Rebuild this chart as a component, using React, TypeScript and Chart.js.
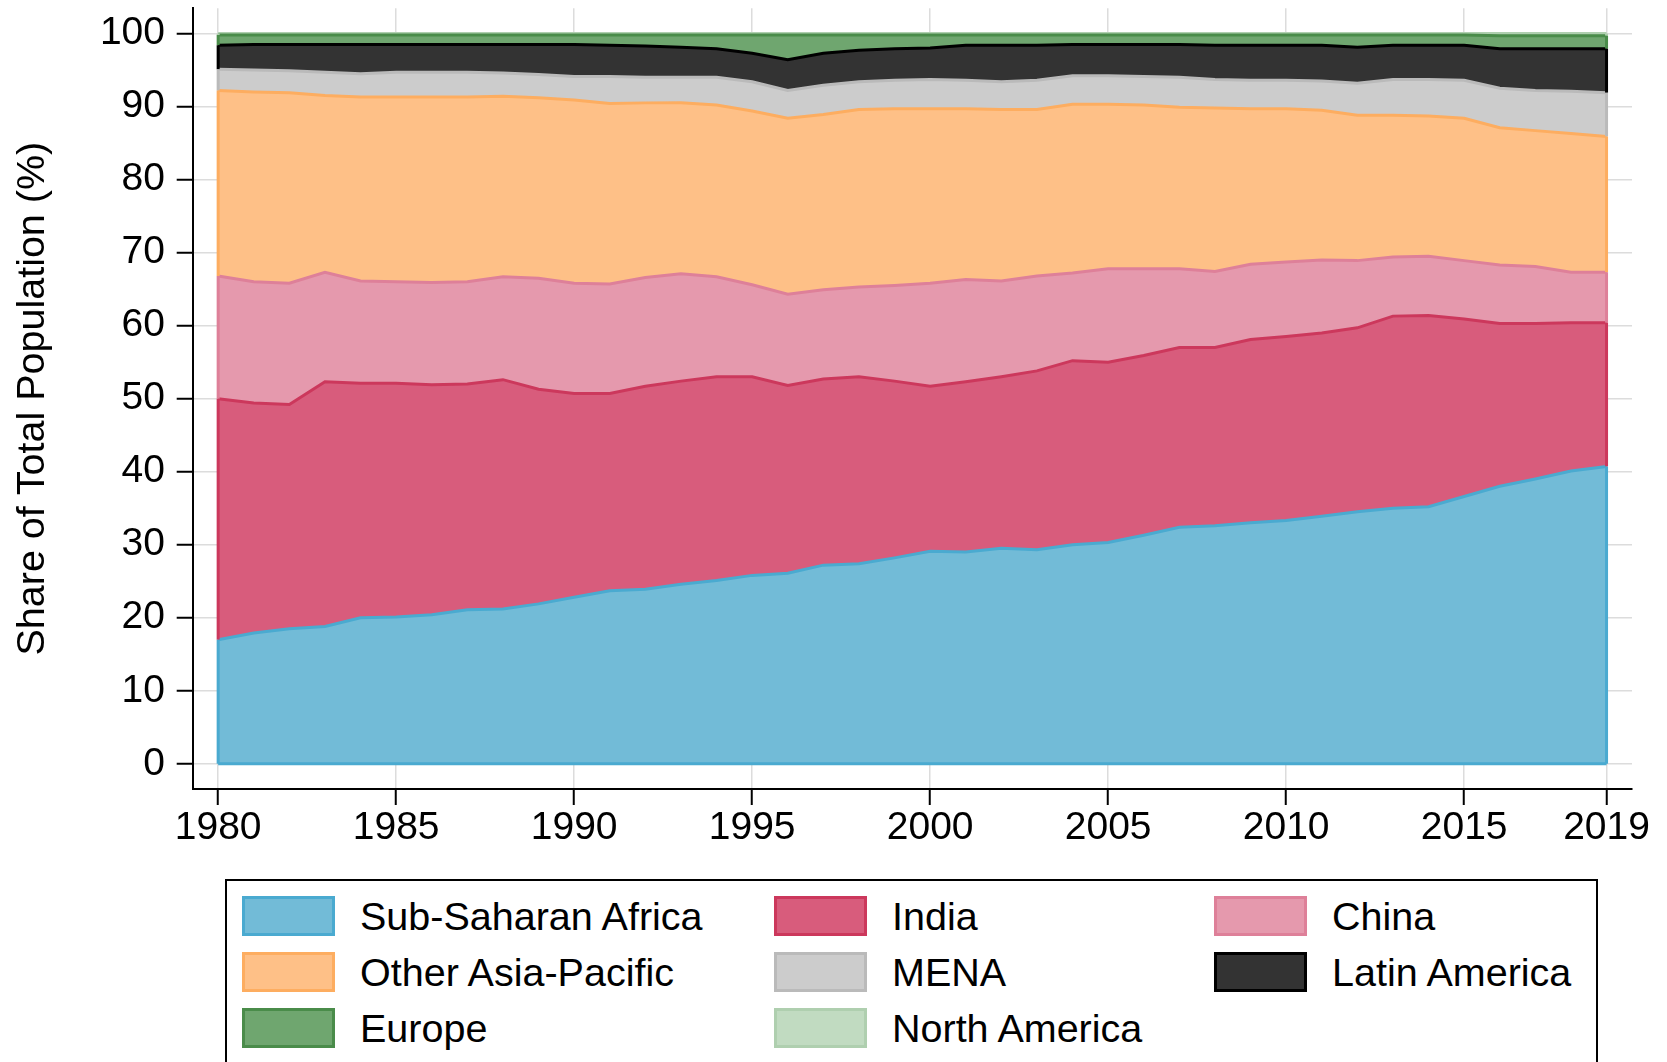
import React, { useEffect, useRef } from "react";
import { Chart, registerables } from "chart.js";

Chart.register(...registerables);

const years = [
  1980, 1981, 1982, 1983, 1984, 1985, 1986, 1987, 1988, 1989,
  1990, 1991, 1992, 1993, 1994, 1995, 1996, 1997, 1998, 1999,
  2000, 2001, 2002, 2003, 2004, 2005, 2006, 2007, 2008, 2009,
  2010, 2011, 2012, 2013, 2014, 2015, 2016, 2017, 2018, 2019,
];

const subSaharanAfrica = [
  17.0, 17.9, 18.5, 18.8, 20.0, 20.1, 20.4, 21.1, 21.2, 21.9,
  22.8, 23.7, 23.9, 24.6, 25.1, 25.8, 26.1, 27.2, 27.4, 28.2,
  29.1, 29.0, 29.5, 29.3, 30.0, 30.3, 31.3, 32.4, 32.6, 33.0,
  33.3, 33.9, 34.5, 35.0, 35.2, 36.6, 38.0, 39.0, 40.1, 40.7,
];
const india = [
  33.0, 31.5, 30.7, 33.5, 32.1, 32.0, 31.5, 30.9, 31.4, 29.4,
  27.9, 27.0, 27.8, 27.8, 27.9, 27.2, 25.7, 25.5, 25.6, 24.2,
  22.6, 23.3, 23.5, 24.5, 25.2, 24.7, 24.6, 24.6, 24.4, 25.1,
  25.2, 25.1, 25.2, 26.3, 26.2, 24.3, 22.3, 21.3, 20.3, 19.7,
];
const china = [
  16.8, 16.6, 16.6, 15.0, 14.0, 13.9, 14.0, 14.0, 14.1, 15.2,
  15.1, 15.0, 14.9, 14.7, 13.7, 12.6, 12.5, 12.2, 12.3, 13.1,
  14.1, 14.0, 13.1, 13.0, 12.0, 12.8, 11.9, 10.8, 10.4, 10.3,
  10.2, 10.0, 9.2, 8.1, 8.1, 8.0, 8.0, 7.8, 6.9, 6.9,
];
const otherAsiaPacific = [
  25.4, 26.0, 26.1, 24.2, 25.2, 25.3, 25.4, 25.3, 24.7, 24.7,
  25.1, 24.7, 23.9, 23.4, 23.5, 23.8, 24.1, 24.0, 24.3, 24.2,
  23.9, 23.4, 23.5, 22.8, 23.1, 22.5, 22.4, 22.1, 22.4, 21.3,
  21.0, 20.5, 19.9, 19.4, 19.2, 19.5, 18.8, 18.6, 19.0, 18.6,
];
const mena = [
  2.9, 3.0, 3.0, 3.2, 3.2, 3.4, 3.4, 3.4, 3.2, 3.2,
  3.2, 3.7, 3.5, 3.5, 3.8, 4.0, 3.8, 4.0, 3.8, 3.9,
  4.0, 3.9, 3.8, 4.0, 3.9, 3.9, 3.9, 4.1, 3.9, 3.9,
  3.9, 4.0, 4.4, 4.9, 5.0, 5.2, 5.4, 5.5, 5.8, 6.0,
];
const latinAmerica = [
  3.3, 3.5, 3.6, 3.8, 4.0, 3.8, 3.8, 3.8, 3.9, 4.1,
  4.4, 4.3, 4.3, 4.1, 3.9, 3.9, 4.2, 4.4, 4.3, 4.3,
  4.3, 4.8, 5.0, 4.8, 4.3, 4.3, 4.4, 4.5, 4.7, 4.8,
  4.8, 4.9, 4.9, 4.7, 4.7, 4.8, 5.4, 5.7, 5.8, 6.0,
];
const europe = [
  1.4, 1.3, 1.3, 1.3, 1.3, 1.3, 1.3, 1.3, 1.3, 1.3,
  1.3, 1.4, 1.5, 1.7, 1.9, 2.5, 3.4, 2.5, 2.1, 1.9,
  1.8, 1.4, 1.4, 1.4, 1.3, 1.3, 1.3, 1.3, 1.4, 1.4,
  1.4, 1.4, 1.7, 1.4, 1.4, 1.4, 1.8, 1.8, 1.8, 1.8,
];
const northAmerica = [
  0.2, 0.2, 0.2, 0.2, 0.2, 0.2, 0.2, 0.2, 0.2, 0.2,
  0.2, 0.2, 0.2, 0.2, 0.2, 0.2, 0.2, 0.2, 0.2, 0.2,
  0.2, 0.2, 0.2, 0.2, 0.2, 0.2, 0.2, 0.2, 0.2, 0.2,
  0.2, 0.2, 0.2, 0.2, 0.2, 0.2, 0.3, 0.3, 0.3, 0.3,
];

const xTicks = [1980, 1985, 1990, 1995, 2000, 2005, 2010, 2015, 2019];
const yTicks = [0, 10, 20, 30, 40, 50, 60, 70, 80, 90, 100];
const yTitle = "Share of Total Population (%)";

const series = [
  { label: "Sub-Saharan Africa", values: subSaharanAfrica, fill: "#72bbd7", line: "#4aaad0" },
  { label: "India", values: india, fill: "#d85c7c", line: "#cc385c" },
  { label: "China", values: china, fill: "#e599ad", line: "#de8099" },
  { label: "Other Asia-Pacific", values: otherAsiaPacific, fill: "#fec087", line: "#fdad60" },
  { label: "MENA", values: mena, fill: "#cccccc", line: "#bababa" },
  { label: "Latin America", values: latinAmerica, fill: "#333333", line: "#000000" },
  { label: "Europe", values: europe, fill: "#6fa66f", line: "#4a8c4a" },
  { label: "North America", values: northAmerica, fill: "#c1dbc1", line: "#afcfaf" },
];

// legend order (row-major, 3 columns)
const legendOrder = [
  "Sub-Saharan Africa", "India", "China",
  "Other Asia-Pacific", "MENA", "Latin America",
  "Europe", "North America",
];

const FONT = "'Liberation Sans', Arial, Helvetica, sans-serif";

const edgePlugin = {
  id: "areaEdges",
  afterDatasetsDraw(chart: any) {
    const ctx = chart.ctx;
    const yScale = chart.scales.y;
    const area = chart.chartArea;
    ctx.save();
    ctx.beginPath();
    ctx.rect(area.left, area.top, area.right - area.left, area.bottom - area.top);
    ctx.clip();
    const n = chart.data.datasets.length;
    const zero = yScale.getPixelForValue(0);
    for (let i = n - 1; i >= 0; i--) {
      const meta = chart.getDatasetMeta(i);
      const prev = i > 0 ? chart.getDatasetMeta(i - 1) : null;
      const ds = chart.data.datasets[i];
      ctx.strokeStyle = ds.borderColor;
      ctx.lineWidth = 3;
      const last = meta.data.length - 1;
      [0, last].forEach((j) => {
        const pt = meta.data[j];
        const base = prev ? prev.data[j].y : zero;
        ctx.beginPath();
        ctx.moveTo(pt.x, pt.y);
        ctx.lineTo(pt.x, base);
        ctx.stroke();
      });
      if (i === 0) {
        ctx.beginPath();
        ctx.moveTo(meta.data[0].x, zero);
        ctx.lineTo(meta.data[last].x, zero);
        ctx.stroke();
      }
    }
    ctx.restore();
  },
};

export default function App() {
  const canvasRef = useRef<HTMLCanvasElement | null>(null);

  useEffect(() => {
    const canvas = canvasRef.current;
    if (!canvas) return;
    const datasets = series.map((s, i) => ({
      label: s.label,
      data: years.map((yr, k) => ({ x: yr, y: s.values[k] })),
      backgroundColor: s.fill,
      borderColor: s.line,
      borderWidth: 3,
      pointRadius: 0,
      pointHoverRadius: 0,
      tension: 0,
      fill: i === 0 ? "origin" : "-1",
    }));

    const chart = new Chart(canvas, {
      type: "line",
      data: { datasets },
      plugins: [edgePlugin],
      options: {
        responsive: false,
        animation: false,
        devicePixelRatio: 1,
        events: [],
        layout: { padding: { top: 8.3, right: 35, left: 0, bottom: 0 } },
        plugins: {
          legend: { display: false },
          tooltip: { enabled: false },
          title: { display: false },
        },
        scales: {
          x: {
            type: "linear",
            min: 1979.285,
            max: 2019.715,
            afterBuildTicks: (scale: any) => {
              scale.ticks = xTicks.map((v) => ({ value: v }));
            },
            afterFit: (scale: any) => {
              scale.height = 71;
              scale.paddingLeft = 0;
              scale.paddingRight = 0;
              scale.paddingTop = 0;
              scale.paddingBottom = 0;
            },
            grid: {
              color: "#dcdcdc",
              lineWidth: 1.5,
              drawTicks: true,
              tickLength: 16,
              tickColor: "#000000",
              tickWidth: 2,
            },
            border: { display: true, color: "#000000", width: 2 },
            ticks: {
              autoSkip: false,
              maxRotation: 0,
              minRotation: 0,
              padding: 0,
              color: "#000000",
              font: { family: FONT, size: 39 },
              callback: (v: any) => String(v),
            },
          },
          y: {
            type: "linear",
            stacked: true,
            min: -3.45,
            max: 103.45,
            afterBuildTicks: (scale: any) => {
              scale.ticks = yTicks.map((v) => ({ value: v }));
            },
            afterFit: (scale: any) => {
              scale.width = 192.7;
              scale.paddingLeft = 0;
              scale.paddingRight = 0;
              scale.paddingTop = 0;
              scale.paddingBottom = 0;
            },
            grid: {
              color: "#dcdcdc",
              lineWidth: 1.5,
              drawTicks: true,
              tickLength: 16,
              tickColor: "#000000",
              tickWidth: 2,
            },
            border: { display: true, color: "#000000", width: 2 },
            ticks: {
              padding: 11.7,
              color: "#000000",
              font: { family: FONT, size: 39 },
              callback: (v: any) => String(v),
            },
            title: {
              display: true,
              text: yTitle,
              color: "#000000",
              font: { family: FONT, size: 39.5 },
              padding: { top: 9.3, bottom: 0 },
            },
          },
        },
      } as any,
    });
    return () => chart.destroy();
  }, []);

  const colLefts = [242, 774, 1214];
  const rowTops = [896, 952, 1008];

  return (
    <div
      style={{
        position: "fixed",
        left: 0,
        top: 0,
        width: 1667,
        height: 1062,
        overflow: "hidden",
        background: "#ffffff",
        fontFamily: FONT,
      }}
    >
      <canvas
        ref={canvasRef}
        width={1667}
        height={860}
        style={{ position: "absolute", left: 0, top: 0, width: 1667, height: 860 }}
      />
      <div
        style={{
          position: "absolute",
          left: 225,
          top: 879,
          width: 1373,
          height: 240,
          border: "2px solid #000",
          boxSizing: "border-box",
        }}
      />
      {legendOrder.map((name, idx) => {
        const s = series.find((q) => q.label === name)!;
        const col = idx % 3;
        const row = Math.floor(idx / 3);
        return (
          <div
            key={name}
            style={{
              position: "absolute",
              left: colLefts[col],
              top: rowTops[row],
              height: 40,
              display: "flex",
              alignItems: "flex-start",
              whiteSpace: "nowrap",
            }}
          >
            <div
              style={{
                width: 93,
                height: 40,
                boxSizing: "border-box",
                background: s.fill,
                border: `3px solid ${s.line}`,
                flex: "none",
              }}
            />
            <div
              style={{
                marginLeft: 25,
                fontSize: 39.5,
                lineHeight: "40px",
                color: "#000",
              }}
            >
              {name}
            </div>
          </div>
        );
      })}
    </div>
  );
}
